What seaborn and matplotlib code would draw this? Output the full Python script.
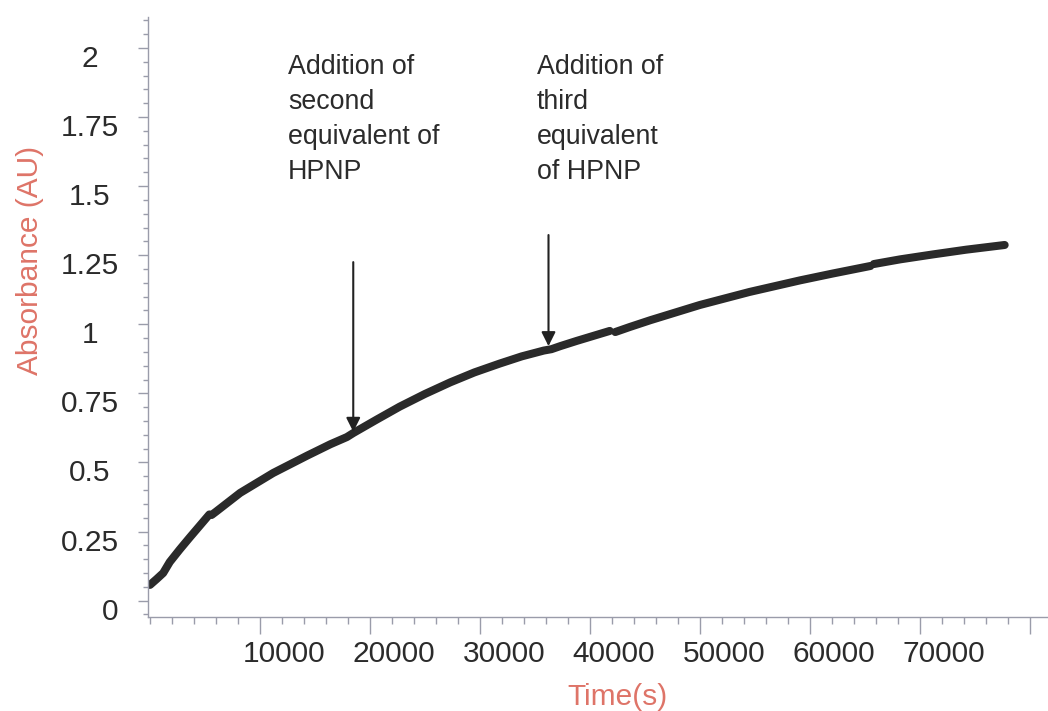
import matplotlib
matplotlib.use("Agg")
import matplotlib.pyplot as plt
import matplotlib.transforms as mtransforms
from matplotlib.ticker import FixedLocator, MultipleLocator
import pandas as pd
import seaborn as sns

# Absorbance trace, recorded in several stretches (one per segment id)
time_s = [
    0, 600, 1200, 1800, 2700, 3600, 4500, 5400,
    5600, 6000, 8200, 11200, 14300, 16400, 17900, 18500, 20600, 22700,
    25000, 27300, 29500, 31800, 33800, 35800, 36500, 37300, 38800, 40300, 41800,
    42300, 43600, 45500, 50000, 54500, 59100, 62100, 65500,
    65800, 68200, 71200, 74200, 77700,
]
absorbance = [
    0.057, 0.078, 0.100, 0.140, 0.185, 0.228, 0.270, 0.312,
    0.310, 0.322, 0.390, 0.462, 0.525, 0.566, 0.592, 0.607, 0.655, 0.702,
    0.748, 0.790, 0.826, 0.858, 0.884, 0.905, 0.910, 0.921, 0.940, 0.958, 0.976,
    0.972, 0.990, 1.015, 1.070, 1.117, 1.159, 1.184, 1.211,
    1.218, 1.235, 1.253, 1.270, 1.287,
]
segment = [0] * 8 + [1] * 21 + [2] * 8 + [3] * 5

y_ticks = [0, 0.25, 0.5, 0.75, 1, 1.25, 1.5, 1.75, 2]
y_tick_labels = ["0", "0.25", "0.5", "0.75", "1", "1.25", "1.5", "1.75", "2"]
x_ticks = [10000, 20000, 30000, 40000, 50000, 60000, 70000, 80000]
x_tick_labels = ["10000", "20000", "30000", "40000", "50000", "60000", "70000", ""]

# HPNP additions: time of addition, arrow start and end absorbance
addition_time = [18480, 36230]
arrow_top = [1.225, 1.323]
arrow_tip = [0.611, 0.921]
note_x = [12550, 35180]
note_text = [
    "Addition of\nsecond\nequivalent of\nHPNP",
    "Addition of\nthird\nequivalent\nof HPNP",
]

sns.set_style("ticks")
plt.rcParams["font.family"] = ["Liberation Sans", "DejaVu Sans"]

text_col = "#2b2b2b"
label_col = "#de7468"
axis_col = "#9a9caa"

fig = plt.figure(figsize=(10.48, 7.11), dpi=100)
fig.patch.set_facecolor("white")
ax = fig.add_axes([148 / 1048, 94.3 / 711, 900 / 1048, 600 / 711])
ax.set_facecolor("white")

df = pd.DataFrame({"time": time_s, "absorbance": absorbance, "segment": segment})
sns.lineplot(
    data=df, x="time", y="absorbance", units="segment", estimator=None,
    color="#2a2a2a", lw=5.8, ax=ax, solid_capstyle="round",
    solid_joinstyle="round", legend=False,
)

ax.set_xlim(-180, 81640)
ax.set_ylim(-0.058, 2.113)

ax.xaxis.set_major_locator(FixedLocator(x_ticks))
ax.set_xticklabels(x_tick_labels)
ax.xaxis.set_minor_locator(MultipleLocator(2000))
ax.yaxis.set_major_locator(FixedLocator(y_ticks))
ax.set_yticklabels(y_tick_labels)
ax.yaxis.set_minor_locator(MultipleLocator(0.05))

ax.tick_params(axis="x", which="major", length=12, width=1, color=axis_col,
               labelsize=21.5, labelcolor=text_col, pad=4.5)
ax.tick_params(axis="x", which="minor", length=5, width=1, color=axis_col)
ax.tick_params(axis="y", which="major", length=7, width=1, color=axis_col,
               labelsize=21.5, labelcolor=text_col, pad=35)
ax.tick_params(axis="y", which="minor", length=3.5, width=1, color=axis_col)

for side in ("top", "right"):
    ax.spines[side].set_visible(False)
for side in ("left", "bottom"):
    ax.spines[side].set_color(axis_col)
    ax.spines[side].set_linewidth(1)

# Tick labels sit a little off their ticks; y labels are centred in a column
x_shift = mtransforms.ScaledTranslation(0.24, 0, fig.dpi_scale_trans)
for lbl in ax.get_xticklabels():
    lbl.set_transform(lbl.get_transform() + x_shift)
for lbl in ax.get_yticklabels():
    dx = 0.2 if lbl.get_text() == "0" else 0.0
    lbl.set_horizontalalignment("center")
    lbl.set_transform(lbl.get_transform()
                      + mtransforms.ScaledTranslation(dx, -0.08, fig.dpi_scale_trans))

ax.set_xlabel("Time(s)", fontsize=21.5, color=label_col, va="center")
ax.xaxis.set_label_coords((617 - 148) / 900, -(697 - 616.7) / 600)
ax.set_ylabel("Absorbance (AU)", fontsize=21.5, color=label_col, va="center")
ax.yaxis.set_label_coords(-(148 - 30) / 900, (616.7 - 260) / 600)

for t, top, tip, nx, txt in zip(addition_time, arrow_top, arrow_tip, note_x, note_text):
    ax.annotate(
        "", xy=(t, tip), xytext=(t, top),
        arrowprops=dict(arrowstyle="-|>", color="#222222", lw=1.5,
                        mutation_scale=21, shrinkA=0, shrinkB=0),
    )
    ax.text(nx, 1.978, txt, ha="left", va="top", fontsize=19.3,
            color=text_col, linespacing=1.45)

fig.savefig("out.png", dpi=100, facecolor="white")
